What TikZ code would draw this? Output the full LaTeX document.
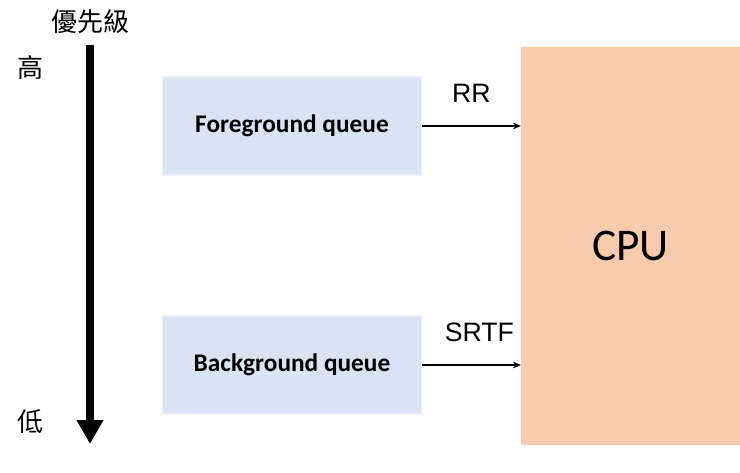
\documentclass[tikz,border=0pt]{standalone}
\usepackage{fontspec}
\setmainfont{Carlito}
\newfontfamily\cjk{Noto Sans CJK TC}
\newfontfamily\arial{Liberation Sans}
\usetikzlibrary{arrows.meta}
\begin{document}
\begin{tikzpicture}[x=0.75pt,y=-0.75pt,
  q/.style={draw=white!85!black!40!blue!10,fill={rgb,255:red,218;green,227;blue,243},line width=0.8pt,minimum width=194pt,minimum height=73.5pt,inner sep=0pt,font=\bfseries\fontsize{19}{22}\selectfont},
  lab/.style={font=\arial\fontsize{20}{24}\selectfont},
  cj/.style={font=\cjk\fontsize{19.5}{23}\selectfont},
  conn/.style={-{Stealth[length=6pt,width=5pt]},line width=0.9pt}]
\useasboundingbox (0,0) rectangle (740,472);
\node[q] (fg) at (292,126) {Foreground queue};
\node[q] (bg) at (292,365) {Background queue};
\node[fill={rgb,255:red,248;green,203;blue,173},minimum width=164pt,minimum height=298.5pt,inner sep=0pt,font=\fontsize{34}{40}\selectfont] (cpu) at (630.5,246) {CPU};
\coordinate (top) at (90,45);
\coordinate (bot) at (90,444);
\draw[line width=6pt,-{Triangle[length=18pt,width=19pt]}] (top) -- (bot);
\node[cj] (p) at (90,22) {優先級};
\node[cj] (hi) at (30,68) {高};
\node[cj] (lo) at (30,422) {低};
\draw[conn] (fg.east) -- (cpu.west |- fg.east) node[lab,midway,above=14pt] (rr) {RR};
\draw[conn] (bg.east) -- (cpu.west |- bg.east) node[lab,midway,above=14pt,xshift=6pt] (sr) {SRTF};
\end{tikzpicture}
\end{document}
